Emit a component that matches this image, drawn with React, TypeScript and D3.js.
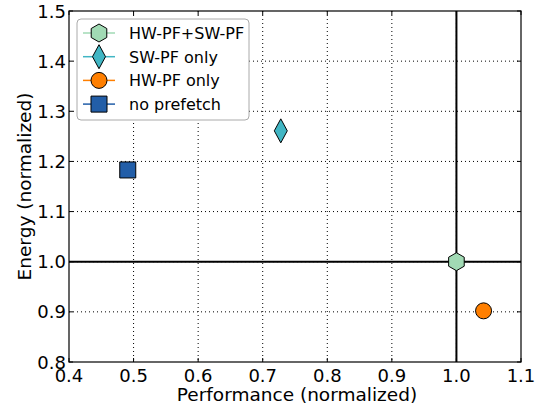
import React from "react";
import * as d3 from "d3";

const xTicks = [0.4, 0.5, 0.6, 0.7, 0.8, 0.9, 1.0, 1.1];
const yTicks = [0.8, 0.9, 1.0, 1.1, 1.2, 1.3, 1.4, 1.5];
const seriesNames = ["HW-PF+SW-PF", "SW-PF only", "HW-PF only", "no prefetch"];
const perfValues = [1.0, 0.728, 1.042, 0.491];
const energyValues = [1.0, 1.261, 0.902, 1.183];
const seriesColors = ["#a1dab4", "#41b6c4", "#ff7f00", "#225ea8"];
const seriesMarkers = ["hexagon", "thin_diamond", "circle", "square"];

const W = 542, H = 405;
const L = 69, R = 521, T = 11, B = 362;

function markerPath(kind: string): string {
  if (kind === "hexagon") {
    const r = 9;
    const pts = d3.range(6).map((i) => {
      const a = (Math.PI / 3) * i - Math.PI / 2;
      return [r * Math.cos(a), r * Math.sin(a)];
    });
    return "M" + pts.map((p) => p.join(",")).join("L") + "Z";
  }
  if (kind === "thin_diamond") {
    return "M0,-12L6.5,0L0,12L-6.5,0Z";
  }
  if (kind === "square") {
    return "M-8,-8L8,-8L8,8L-8,8Z";
  }
  return d3.symbol(d3.symbolCircle, 201)() as string;
}

export default function App() {
  const x = d3.scaleLinear().domain([0.4, 1.1]).range([L, R]);
  const y = d3.scaleLinear().domain([0.8, 1.5]).range([B, T]);
  const font = "DejaVu Sans";
  return (
    <svg width={W} height={H} style={{ position: "absolute", left: 0, top: 0, background: "#fff" }}>
      {/* grid */}
      {xTicks.slice(1, -1).map((t) => (
        <line key={"gx" + t} x1={x(t)} x2={x(t)} y1={T} y2={B} stroke="#000" strokeWidth={1} strokeDasharray="1,3" />
      ))}
      {yTicks.slice(1, -1).map((t) => (
        <line key={"gy" + t} x1={L} x2={R} y1={y(t)} y2={y(t)} stroke="#000" strokeWidth={1} strokeDasharray="1,3" />
      ))}
      {/* reference lines */}
      <line x1={x(1.0)} x2={x(1.0)} y1={T} y2={B} stroke="#000" strokeWidth={2} />
      <line x1={L} x2={R} y1={y(1.0)} y2={y(1.0)} stroke="#000" strokeWidth={2} />
      {/* ticks */}
      {xTicks.map((t) => (
        <g key={"tx" + t}>
          <line x1={x(t)} x2={x(t)} y1={B} y2={B - 4} stroke="#000" />
          <line x1={x(t)} x2={x(t)} y1={T} y2={T + 4} stroke="#000" />
          <text x={x(t)} y={B + 20} textAnchor="middle" fontFamily={font} fontSize={18} fill="#000">
            {t.toFixed(1)}
          </text>
        </g>
      ))}
      {yTicks.map((t) => (
        <g key={"ty" + t}>
          <line x1={L} x2={L + 4} y1={y(t)} y2={y(t)} stroke="#000" />
          <line x1={R} x2={R - 4} y1={y(t)} y2={y(t)} stroke="#000" />
          <text x={L - 3} y={y(t) + 6.5} textAnchor="end" fontFamily={font} fontSize={18} fill="#000">
            {t.toFixed(1)}
          </text>
        </g>
      ))}
      <rect x={L} y={T} width={R - L} height={B - T} fill="none" stroke="#000" strokeWidth={1.2} />
      {/* points */}
      {seriesNames.map((n, i) => (
        <path
          key={"p" + n}
          d={markerPath(seriesMarkers[i])}
          transform={`translate(${x(perfValues[i])},${y(energyValues[i])})`}
          fill={seriesColors[i]}
          stroke="#000"
          strokeWidth={1}
        />
      ))}
      {/* legend */}
      <rect x={77} y={19} width={172} height={101} rx={4} fill="#fff" stroke="#aaa" strokeWidth={1} />
      {seriesNames.map((n, i) => {
        const cy = 33 + i * 23.7;
        return (
          <g key={"l" + n}>
            <line x1={83} x2={115} y1={cy} y2={cy} stroke={seriesColors[i]} strokeWidth={1.5} />
            <path d={markerPath(seriesMarkers[i])} transform={`translate(99,${cy})`} fill={seriesColors[i]} stroke="#000" strokeWidth={1} />
            <text x={129} y={cy + 6} fontFamily={font} fontSize={16} fill="#000">
              {n}
            </text>
          </g>
        );
      })}
      {/* axis labels */}
      <text x={(L + R) / 2 + 2} y={401} textAnchor="middle" fontFamily={font} fontSize={18.5} fill="#000">
        Performance (normalized)
      </text>
      <text transform={`translate(31,${(T + B) / 2}) rotate(-90)`} textAnchor="middle" fontFamily={font} fontSize={18.5} fill="#000">
        Energy (normalized)
      </text>
    </svg>
  );
}
